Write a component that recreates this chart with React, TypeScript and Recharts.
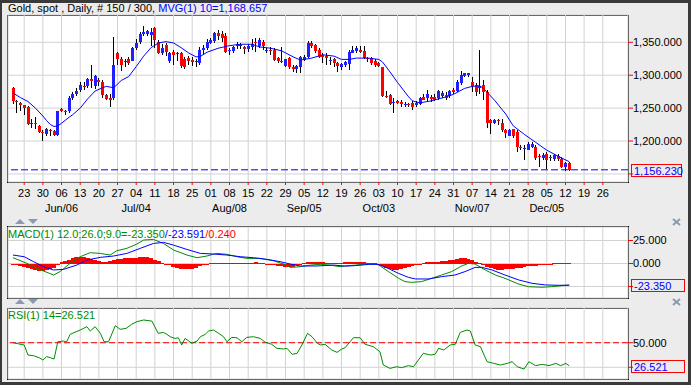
import React from 'react';
import { ComposedChart, Bar, Line, XAxis, YAxis, CartesianGrid, ReferenceLine } from 'recharts';

const FONT = '"Liberation Sans", Arial, sans-serif';
const BG = '#ECECEC';
const FRAME = '#3A3A3A';
const GRID = '#D2D2D2';
const BLUE = '#0000FF';
const CBLUE = '#2020FF';
const RED = '#FF0000';
const GREEN = '#008C00';
const ICON = '#8A9AB2';

// trading-day index of first bar (0 = Mon 23 May)
const firstBar = -3;

const opens = [
  1281,1261,1258,1254,1252,1226,1227,1223,1213,1210,
  1217,1215,1209,1249,1245,1245,1265,1271,1278,1284,
  1283,1294,1283,1292,1289,1270,1266,1265,1334,1325,
  1321,1324,1322,1341,1350,1363,1362,1361,1371,1351,
  1334,1346,1321,1335,1333,1334,1324,1326,1323,1320,
  1319,1338,1341,1349,1352,1364,1362,1359,1338,1337,
  1344,1346,1343,1340,1343,1350,1344,1351,1338,1338,
  1338,1326,1321,1314,1326,1313,1309,1313,1323,1327,
  1349,1346,1338,1331,1329,1323,1324,1318,1313,1315,
  1317,1334,1337,1339,1337,1326,1326,1322,1318,1312,
  1269,1270,1259,1261,1260,1256,1257,1258,1255,1257,
  1267,1265,1267,1267,1265,1268,1270,1268,1277,1276,
  1288,1299,1300,1290,1285,1280,1285,1275,1232,1227,
  1232,1228,1217,1208,1218,1214,1191,1190,1187,1191,
  1191,1177,1174,1181,1175,1173,1177,1172,1161,1166,
];
const highs = [
  1282,1263,1260,1255,1253,1233,1236,1225,1216,1220,
  1219,1217,1246,1250,1247,1268,1274,1280,1289,1290,
  1296,1316,1301,1295,1292,1272,1271,1358,1336,1327,
  1325,1327,1343,1355,1366,1375,1369,1371,1373,1354,
  1347,1349,1336,1339,1336,1336,1328,1329,1327,1324,
  1343,1346,1355,1357,1366,1368,1367,1364,1341,1344,
  1350,1349,1345,1347,1355,1356,1356,1354,1341,1343,
  1341,1328,1343,1325,1327,1315,1315,1329,1331,1352,
  1352,1348,1341,1333,1333,1328,1326,1320,1319,1322,
  1338,1344,1344,1344,1344,1328,1327,1324,1320,1313,
  1276,1272,1265,1263,1263,1260,1258,1261,1261,1267,
  1272,1277,1270,1272,1278,1276,1275,1278,1280,1292,
  1306,1304,1304,1298,1288,1338,1292,1277,1234,1234,
  1234,1233,1219,1219,1219,1217,1194,1194,1199,1199,
  1194,1181,1182,1184,1179,1180,1180,1175,1168,1168,
];
const lows = [
  1256,1243,1245,1240,1224,1220,1219,1212,1200,1208,
  1208,1207,1207,1244,1240,1243,1263,1268,1275,1278,
  1280,1280,1279,1283,1265,1262,1252,1263,1316,1306,
  1313,1316,1321,1339,1347,1359,1359,1345,1342,1332,
  1330,1329,1319,1316,1322,1311,1310,1316,1314,1313,
  1316,1331,1339,1347,1349,1354,1351,1334,1330,1333,
  1340,1340,1332,1336,1339,1336,1341,1339,1333,1331,
  1322,1318,1318,1313,1309,1305,1303,1303,1321,1326,
  1341,1334,1326,1318,1316,1315,1313,1305,1308,1313,
  1308,1333,1333,1333,1324,1320,1316,1313,1312,1267,
  1265,1255,1242,1256,1252,1251,1252,1247,1252,1255,
  1262,1260,1260,1261,1262,1265,1262,1265,1272,1274,
  1285,1297,1298,1275,1268,1272,1262,1220,1210,1226,
  1224,1214,1204,1207,1204,1184,1186,1171,1186,1189,
  1171,1161,1171,1157,1169,1169,1170,1159,1154,1155,
];
const closes = [
  1261,1259,1254,1250,1226,1227,1226,1214,1212,1218,
  1216,1209,1245,1246,1244,1266,1271,1276,1285,1283,
  1294,1291,1299,1289,1270,1264,1263,1316,1325,1315,
  1322,1318,1341,1349,1362,1365,1367,1366,1354,1334,
  1342,1336,1334,1331,1334,1314,1312,1322,1320,1321,
  1339,1341,1351,1354,1364,1359,1357,1336,1339,1343,
  1347,1346,1340,1344,1348,1349,1353,1344,1338,1337,
  1323,1321,1320,1324,1312,1309,1314,1327,1328,1349,
  1344,1337,1328,1328,1326,1323,1318,1314,1317,1320,
  1336,1338,1341,1336,1326,1325,1318,1316,1314,1268,
  1268,1256,1260,1258,1256,1256,1256,1252,1258,1265,
  1263,1272,1264,1263,1276,1273,1265,1276,1275,1290,
  1300,1303,1304,1283,1275,1283,1275,1227,1227,1232,
  1231,1216,1212,1217,1208,1191,1189,1190,1196,1196,
  1174,1176,1179,1171,1174,1178,1172,1161,1166,1156.23,
];

// MVG(1) 10
const maK = [-3,-1,1,3,5,6,7,8,9,10,12,13,15,17,19,21,22,24,26,28,30,32,34,36,38,40,42,44,46,47,49,52,55,58,61,63,66,69,72,74,77,80,83,85,87,89,92,95,96,98,100,103,104,106,109,113,115,118,120,122,123,126,129,131,134,137,140,142,144,146];
const maV = [1273,1266,1260,1250,1238,1231,1225,1222,1223,1227,1236,1240,1250,1264,1276,1281,1283,1281,1292,1298,1313,1329,1342,1349,1351,1349,1342,1334,1328,1328,1335,1341,1345,1347,1347,1343,1341,1337,1328,1323,1326,1331,1329,1324,1324,1326,1326,1324,1320,1305,1289,1267,1261,1258,1261,1267,1271,1280,1283,1284,1280,1262,1241,1223,1210,1198,1186,1180,1174,1168.657];

// MACD line
const macdK = [-3,0.7,3.4,7.9,9.6,12.3,15,17.7,20.4,23,24.8,27.5,30.2,32,34.6,37.3,40,43.6,46.3,48.9,51.6,54.3,57,59.6,63.2,66.8,69.5,71.3,73.9,76.6,79.3,81.9,84.6,86,88.7,91.3,94,95,97.6,100.3,102,103.8,106.4,109.2,111.8,114.5,117.2,119,120.8,123.5,126.2,128.8,132.4,135.1,138.7,141.3,144,146];
const macdV = [6.3,0.2,-5.3,-12.5,-8.8,0.2,7.4,11.8,11,9.2,13.9,16.5,21.2,25.5,26.2,21.8,14.7,9.2,6.3,8.1,11,10,7.4,5.6,5.6,3,-0.6,-4.2,-3.5,-1.7,-0.9,-1.7,-3.5,-2.7,-1.7,-0.6,-0.6,-1.7,-8.8,-16.1,-19.7,-20.5,-19.7,-16.1,-12.5,-8.8,-2.7,0.2,-0.6,-7,-12.5,-16.1,-22.3,-25.2,-25.8,-25.2,-24.1,-23.35];
// signal line
const sigK = [-3,0,2.5,5.2,7.8,10.5,14.1,16.8,20.4,23.9,27.5,31.1,34.6,37.3,40,43.6,47.2,50.7,54.3,57.9,61.4,65,68.6,71.3,73.9,78.4,82.9,86,88.7,92.5,94.8,97.5,100.2,102.9,104.8,108.3,111.8,115.4,118.1,120.8,122.6,125.3,128.8,132.4,136,139.6,143.1,146];
const sigV = [9.2,7.4,2,-3.5,-7,-6.4,-1.7,3.8,6.7,8.1,11,16.5,21.8,23,20,15.3,11,10.3,9.2,7.4,6.3,4.5,2,-0.6,-2.7,-2.7,-1.7,-2.8,-2.3,-0.9,-0.9,-5.3,-10.6,-15,-16.8,-16.8,-14.3,-12.5,-8.8,-4.2,-4.2,-7,-12.5,-17.8,-21.5,-23.3,-23.7,-23.591];
// histogram, one per bar
const hist = [
  -1,-2,-3,-4,-5,-6.5,-7.5,-8.5,-8.5,-7.5,-6.5,-4.5,-2,
  1.5,3,4,5.5,7,7.5,7,6,5,4,3,2,2,3,4,4.5,5,5.5,5.5,6,6.5,7,7.5,7,5.5,4,2.5,0.5,
  -1,-2,-3.5,-4.5,-5.5,-6,-6,-5.5,-4.5,-3,-2,-0.5,
  0.5,0.8,0.8,0.6,0.5,0.3,0.2,0.3,0.5,0.5,0.8,1,1.2,1,0.5,0,
  -1,-1.5,-2.5,-3,-3.5,-4,-3.5,-2,-0.5,
  0.5,1.2,1.2,1.2,1.2,1.2,1,1,0.5,0.3,0.8,1.2,1.5,1.9,1.8,1.5,1.2,1,0.7,0.5,
  -1.5,-3,-4.5,-6,-7,-7,-6,-5,-4,-3,-2,-0.5,
  0.5,1.2,1.5,1.8,2,2.5,3,3.5,4,4.5,5.5,6.5,5,3.8,2,0.5,
  -2,-4,-5,-6,-7,-7,-6.5,-6,-5.5,-5,-4.5,-4,-3,-3,-2.5,-2,-1.5,-1,-0.5,
  0.7,0.8,0.7,0.3,0.24,
];

// RSI(1) 14
const rsiK = [-3,0,1,2.5,4,5,6,7,8,9,10.5,11.4,12.3,15,16.8,17.7,19,20.4,21.4,22.6,24.4,25.7,27.3,28.8,30.2,32,34.2,35.9,37.3,38.2,39.1,40.4,41.3,42.2,43.1,44.9,46.3,47.2,48.5,49.4,50.7,52.1,53.4,54.3,55.6,57,58.3,59.6,61.4,63.2,64.6,66.3,67.7,69.5,70.4,71.8,73.1,74.4,75.9,77.1,78.4,79.3,80.6,82.4,83.8,85.1,86,87.3,88.2,90,91.3,93.5,95.3,96.2,98,99.8,101.1,102.9,104.3,106.9,108.8,110.1,111,112.4,114.1,115.5,116.8,118.6,119.5,120.8,122.2,124,125.8,127.6,129.4,130.7,132.1,133.9,135.2,137,138.8,140.6,142.4,143.7,145.1,146];
const rsiV = [50,47.7,37.5,36.8,34.8,32.4,35.8,34.8,33.4,51,51.7,51,58.5,62.9,66.3,61.9,66.3,59.5,51,51,67.3,63.6,64.6,68.7,71.4,73.1,72,59.5,60.5,58.5,56.1,54.4,55,47.7,54.4,49.4,51.7,56.1,58.5,61.9,62.9,59.5,56.1,51,55.4,55,51,55.4,56.1,54.4,50.4,48.4,44.3,43.6,44.3,38.2,39.2,47.7,59.5,56.1,50,47.7,48.4,42.6,40.2,43.6,45,51,55.1,55.1,48.4,46,40.9,27.3,23.9,25.6,24.6,26.7,25.6,39.2,37.5,38.2,44.3,42.6,47.7,48.4,60.5,62.9,61.9,47.7,46,30.7,29,27.3,29,30.7,25.6,23.2,30.7,26.7,28,26.7,29,26.7,29,26.521];

// x axis: weekly day labels (Mondays) and month labels
const weekLabels = ['23','30','06','13','20','27','04','11','18','25','01','08','15','22','29','05','12','19','26','03','10','17','24','31','07','14','21','28','05','12','19','26'];
const monthWeeks = [2, 6, 11, 15, 19, 24, 28];
const monthLabels = ['Jun/06','Jul/04','Aug/08','Sep/05','Oct/03','Nov/07','Dec/05'];

const priceTicks = [1150, 1200, 1250, 1300, 1350];
const macdTicks = [-25, 0, 25];
const rsiTicks = [25, 50];
const lastPrice = 1156.23;
const lastMacd = -23.35;
const lastRsi = 26.521;

const X_DOMAIN: [number, number] = [-4.34, 161.75];
const weekTicks = weekLabels.map((_, i) => i * 5);

const candles = opens.map((o, i) => ({
  k: i + firstBar,
  o, h: highs[i], l: lows[i], c: closes[i],
  range: [lows[i], highs[i]],
  hist: hist[i],
}));
const maData = maK.map((k, i) => ({ k, v: maV[i] }));
const macdData = macdK.map((k, i) => ({ k, v: macdV[i] }));
const sigData = sigK.map((k, i) => ({ k, v: sigV[i] }));
const rsiData = rsiK.map((k, i) => ({ k, v: rsiV[i] }));

const fmt3 = (v: number) => v.toLocaleString('en-US', { minimumFractionDigits: 3, maximumFractionDigits: 3 });
// the tick label lying under each panel's last-value box is not shown
const fmtExcept = (hidden: number) => (v: number) => (v === hidden ? '' : fmt3(v));

const Candle = (props: any) => {
  const { x, y, width, height, payload } = props;
  if (x == null || y == null || !payload) return null;
  const top = Math.min(y, y + height);
  const bot = Math.max(y, y + height);
  const { o, h, l, c } = payload;
  const span = h - l || 1;
  const py = (v: number) => top + ((h - v) / span) * (bot - top);
  const cx = Math.round(x + width / 2);
  const up = c >= o;
  const b1 = py(Math.max(o, c));
  const b2 = py(Math.min(o, c));
  return (
    <g shapeRendering="crispEdges">
      <line x1={cx + 0.5} x2={cx + 0.5} y1={top} y2={bot} stroke="#000" strokeWidth={1} />
      <rect x={cx - 1} y={b1} width={3} height={Math.max(1, b2 - b1)} fill={up ? CBLUE : RED} />
    </g>
  );
};

const HistBar = (props: any) => {
  const { x, y, width, height } = props;
  if (x == null || y == null) return null;
  const top = Math.min(y, y + height);
  const h = Math.abs(height);
  const cx = Math.round(x + width / 2);
  return <rect x={cx - 2} y={top} width={4} height={Math.max(1, h)} fill={RED} shapeRendering="crispEdges" />;
};

const DayTick = (props: any) => {
  const { x, y, payload } = props;
  const idx = Math.round(payload.value / 5);
  const mi = monthWeeks.indexOf(idx);
  return (
    <g>
      <text x={x} y={y + 12} textAnchor="middle" fontSize={11} fontFamily={FONT} fill="#000">{weekLabels[idx]}</text>
      {mi >= 0 && (
        <text x={x} y={y + 27} textAnchor="middle" fontSize={11} fontFamily={FONT} fill="#000">{monthLabels[mi]}</text>
      )}
    </g>
  );
};

const ValueBox = (props: any) => {
  const { viewBox, text, w } = props;
  if (!viewBox) return null;
  const bx = viewBox.x + viewBox.width + 3;
  const cy = Math.round(viewBox.y);
  return (
    <g>
      <rect x={bx + 0.5} y={cy - 5.5} width={w} height={12} fill={BG} stroke={RED} strokeWidth={1} shapeRendering="crispEdges" />
      <text x={bx + 3} y={cy + 4.5} fontSize={11} fontFamily={FONT} fill={BLUE}>{text}</text>
    </g>
  );
};

const yTick = { fill: '#000', fontSize: 11, fontFamily: FONT };

const MainChart = () => (
  <ComposedChart width={691} height={215} data={candles} margin={{ top: 15, right: 0, bottom: 0, left: 8 }}>
    <CartesianGrid stroke={GRID} />
    <XAxis dataKey="k" type="number" domain={X_DOMAIN} allowDataOverflow ticks={weekTicks} interval={0}
      height={33} tickSize={3} tickMargin={0} tickLine={{ stroke: RED }} axisLine={false} tick={<DayTick />} />
    <YAxis orientation="right" width={63} domain={[1137.7, 1391.5]} allowDataOverflow ticks={priceTicks} interval={0}
      tickSize={5} tickMargin={0} tickLine={{ stroke: RED }} axisLine={false} tick={yTick} tickFormatter={fmtExcept(1150)} />
    <ReferenceLine y={lastPrice} stroke={BLUE} strokeDasharray="7 3" label={<ValueBox text={fmt3(lastPrice)} w={50} />} />
    <Bar dataKey="range" barSize={3} shape={<Candle />} isAnimationActive={false} />
    <Line data={maData} dataKey="v" type="linear" stroke={BLUE} strokeWidth={1} dot={false} activeDot={false} isAnimationActive={false} />
  </ComposedChart>
);

const MacdChart = () => (
  <ComposedChart width={691} height={80} data={candles} margin={{ top: 7, right: 0, bottom: 2, left: 8 }}>
    <CartesianGrid stroke={GRID} />
    <XAxis dataKey="k" type="number" domain={X_DOMAIN} allowDataOverflow ticks={weekTicks} interval={0} hide height={0} />
    <YAxis orientation="right" width={63} domain={[-37.5, 39.7]} allowDataOverflow ticks={macdTicks} interval={0}
      tickSize={5} tickMargin={0} tickLine={{ stroke: RED }} axisLine={false} tick={yTick} tickFormatter={fmtExcept(-25)} />
    <Bar dataKey="hist" barSize={4} fill={RED} shape={<HistBar />} isAnimationActive={false} />
    <Line data={macdData} dataKey="v" type="linear" stroke={GREEN} strokeWidth={1} dot={false} activeDot={false} isAnimationActive={false} />
    <Line data={sigData} dataKey="v" type="linear" stroke={BLUE} strokeWidth={1} dot={false} activeDot={false} isAnimationActive={false} />
    <ReferenceLine y={lastMacd} stroke="none" label={<ValueBox text={fmt3(lastMacd)} w={53} />} />
  </ComposedChart>
);

const RsiChart = () => (
  <ComposedChart width={691} height={82} data={candles} margin={{ top: 8, right: 0, bottom: 3, left: 8 }}>
    <CartesianGrid stroke={GRID} />
    <XAxis dataKey="k" type="number" domain={X_DOMAIN} allowDataOverflow ticks={weekTicks} interval={0} hide height={0} />
    <YAxis orientation="right" width={63} domain={[13.1, 85.3]} allowDataOverflow ticks={rsiTicks} interval={0}
      tickSize={5} tickMargin={0} tickLine={{ stroke: RED }} axisLine={false} tick={yTick} tickFormatter={fmtExcept(25)} />
    <ReferenceLine y={50} stroke={RED} strokeDasharray="6 3" />
    <Line data={rsiData} dataKey="v" type="linear" stroke={GREEN} strokeWidth={1} dot={false} activeDot={false} isAnimationActive={false} />
    <ReferenceLine y={lastRsi} stroke="none" label={<ValueBox text={fmt3(lastRsi)} w={53} />} />
  </ComposedChart>
);

const Arrows = ({ y }: { y: number }) => (
  <g fill={ICON}>
    <polygon points={`15,${y + 5} 20,${y} 25,${y + 5}`} />
    <polygon points={`28,${y} 38,${y} 33,${y + 5}`} />
    <g stroke={ICON} strokeWidth={2}>
      <line x1={673} y1={y} x2={680} y2={y + 6} />
      <line x1={680} y1={y} x2={673} y2={y + 6} />
    </g>
  </g>
);

export default function App() {
  const panel = (top: number, height: number): React.CSSProperties => ({
    position: 'absolute', left: 7, top, width: 622, height, background: '#fff',
    border: '1px solid #000', boxSizing: 'border-box',
  });
  return (
    <div style={{ position: 'absolute', left: 0, top: 0, width: 691, height: 385, background: FRAME, overflow: 'hidden', fontFamily: FONT }}>
      <div style={{ position: 'absolute', left: 2, top: 3, width: 686, height: 379, background: BG }} />
      <div style={panel(15, 168)} />
      <div style={panel(226, 73)} />
      <div style={panel(308, 72)} />
      <div style={{ position: 'absolute', left: 0, top: 0 }}><MainChart /></div>
      <div style={{ position: 'absolute', left: 0, top: 220 }}><MacdChart /></div>
      <div style={{ position: 'absolute', left: 0, top: 300 }}><RsiChart /></div>
      <svg width={691} height={385} style={{ position: 'absolute', left: 0, top: 0, pointerEvents: 'none' }}>
        <text x={8} y={12} fontSize={11} fontFamily={FONT} fill="#000" xmlSpace="preserve">
          Gold, spot , Daily, # 150 / 300, <tspan fill={BLUE}>MVG(1) 10=1,168.657</tspan>
        </text>
        <text x={8} y={238} fontSize={11} fontFamily={FONT}>
          <tspan fill={GREEN}>MACD(1) 12.0;26.0;9.0=-23.350</tspan>
          <tspan fill={BLUE}>/-23.591</tspan>
          <tspan fill={RED}>/0.240</tspan>
        </text>
        <text x={8} y={319} fontSize={11} fontFamily={FONT} fill={GREEN}>RSI(1) 14=26.521</text>
        <Arrows y={219} />
        <Arrows y={299} />
      </svg>
    </div>
  );
}
